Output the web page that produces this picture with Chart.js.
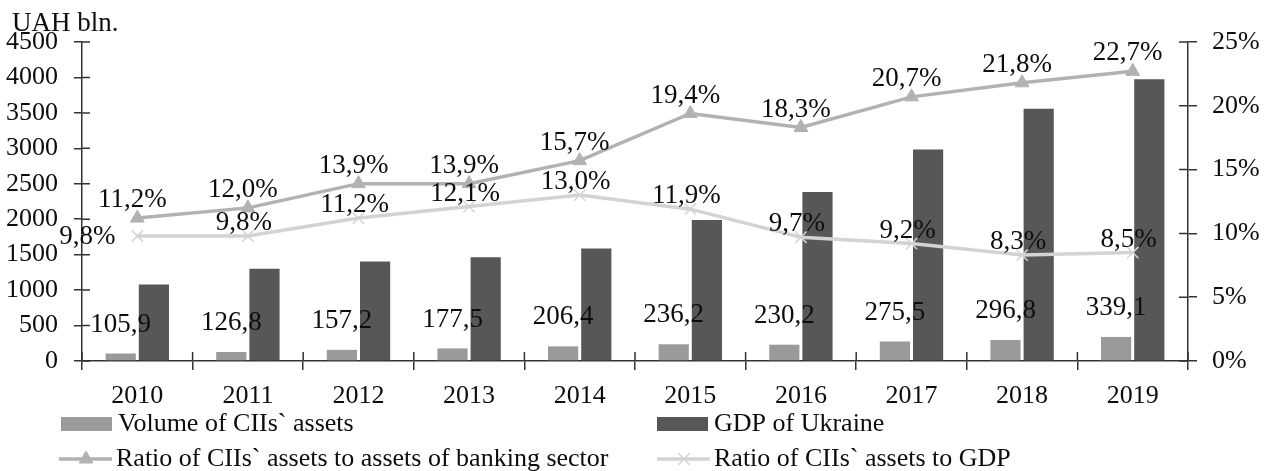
<!DOCTYPE html>
<html>
<head>
<meta charset="utf-8">
<script src="https://cdn.jsdelivr.net/npm/chart.js@4.4.0/dist/chart.umd.min.js"></script>
<style>
  html, body { margin: 0; padding: 0; background: #fff; }
  #wrap { width: 1273px; height: 471px; }
</style>
</head>
<body>
<div id="wrap"><canvas id="mainChart" width="1273" height="471"></canvas></div>
<script>
const years = ['2010', '2011', '2012', '2013', '2014', '2015', '2016', '2017', '2018', '2019'];
const ciiAssets = [105.9, 126.8, 157.2, 177.5, 206.4, 236.2, 230.2, 275.5, 296.8, 339.1];
const gdpUkraine = [1079.3, 1300.0, 1404.7, 1465.2, 1586.9, 1988.5, 2385.4, 2983.9, 3558.7, 3974.6];
const ratioBanking = [11.2, 12.0, 13.9, 13.9, 15.7, 19.4, 18.3, 20.7, 21.8, 22.7];
const ratioGdp = [9.8, 9.8, 11.2, 12.1, 13.0, 11.9, 9.7, 9.2, 8.3, 8.5];

const serif = "'Liberation Serif', 'Times New Roman', serif";
const fontSize = 26;
const labelSize = 27;
const textColor = '#0d0d0d';
const axisColor = '#333333';

Chart.defaults.font.family = serif;
Chart.defaults.font.size = fontSize;
Chart.defaults.color = textColor;

const comma = v => v.toFixed(1).replace('.', ',');

// where each legend entry sits (box/line start, middle of row)
const legendSlots = [[61, 424], [657, 424], [59, 459], [657, 459]];

const valueLabels = {
  id: 'valueLabels',
  afterDatasetsDraw(chart) {
    const ctx = chart.ctx;
    ctx.save();
    ctx.font = labelSize + 'px ' + serif;
    ctx.fillStyle = textColor;
    ctx.textAlign = 'center';
    ctx.textBaseline = 'middle';
    chart.data.datasets.forEach((ds, i) => {
      if (!ds.labelFmt) return;
      const meta = chart.getDatasetMeta(i);
      meta.data.forEach((el, j) => {
        let dx = ds.labelDx || 0, dy = ds.labelDy || 0;
        const sh = ds.labelShift && ds.labelShift[j];
        if (sh) { dx = sh[0]; dy = sh[1]; }
        ctx.fillText(ds.labelFmt(ds.data[j]), el.x + dx, el.y + dy);
      });
    });
    ctx.restore();
  }
};

const extras = {
  id: 'extras',
  afterDraw(chart) {
    const ctx = chart.ctx;
    const area = chart.chartArea;
    const sx = chart.scales.x, sy = chart.scales.y, sy1 = chart.scales.y1;
    ctx.save();
    // inner half of the crossing tick marks
    ctx.strokeStyle = axisColor;
    ctx.lineWidth = 1.5;
    ctx.beginPath();
    sy.ticks.forEach(t => {
      const y = sy.getPixelForValue(t.value);
      ctx.moveTo(area.left, y); ctx.lineTo(area.left + 8, y);
    });
    sy1.ticks.forEach(t => {
      const y = sy1.getPixelForValue(t.value);
      ctx.moveTo(area.right, y); ctx.lineTo(area.right - 9, y);
    });
    for (let i = 0; i <= years.length; i++) {
      const x = sx.left + (sx.width / years.length) * i;
      ctx.moveTo(x, area.bottom); ctx.lineTo(x, area.bottom - 9);
    }
    ctx.stroke();

    // unit caption
    ctx.font = labelSize + 'px ' + serif;
    ctx.fillStyle = textColor;
    ctx.textBaseline = 'middle';
    ctx.textAlign = 'left';
    ctx.fillText('UAH bln.', 12, 24);

    // legend
    ctx.font = fontSize + 'px ' + serif;
    chart.data.datasets.forEach((ds, i) => {
      const [lx, ly] = legendSlots[i];
      if (ds.type === 'line') {
        ctx.strokeStyle = ds.borderColor;
        ctx.lineWidth = ds.borderWidth;
        ctx.beginPath();
        ctx.moveTo(lx, ly); ctx.lineTo(lx + 53, ly);
        ctx.stroke();
        ctx.fillStyle = ds.pointBackgroundColor;
        ctx.strokeStyle = ds.pointBorderColor;
        ctx.lineWidth = ds.pointBorderWidth;
        Chart.helpers.drawPoint(ctx, {
          pointStyle: ds.pointStyle, radius: ds.pointRadius, rotation: 0, borderWidth: ds.pointBorderWidth
        }, lx + 27, ly);
      } else {
        ctx.fillStyle = ds.backgroundColor;
        ctx.fillRect(lx, ly - 7, 51, 14);
      }
      ctx.fillStyle = textColor;
      ctx.fillText(ds.label, lx + 57, ly);
    });
    ctx.restore();
  }
};

new Chart('mainChart', {
  type: 'bar',
  data: {
    labels: years,
    datasets: [
      {
        label: 'Volume of CIIs` assets',
        data: ciiAssets,
        backgroundColor: '#9a9a9a',
        yAxisID: 'y',
        order: 2,
        categoryPercentage: 0.6,
        barPercentage: 0.91,
        labelFmt: comma,
        labelDy: -29
      },
      {
        label: 'GDP of Ukraine',
        data: gdpUkraine,
        backgroundColor: '#575757',
        yAxisID: 'y',
        order: 2,
        categoryPercentage: 0.6,
        barPercentage: 0.91
      },
      {
        type: 'line',
        label: 'Ratio of CIIs` assets to assets of banking sector',
        data: ratioBanking,
        yAxisID: 'y1',
        order: 0,
        borderColor: '#b2b2b2',
        borderWidth: 3.5,
        pointStyle: 'triangle',
        pointRadius: 8,
        pointBackgroundColor: '#b2b2b2',
        pointBorderColor: '#b2b2b2',
        pointBorderWidth: 1,
        tension: 0,
        labelFmt: v => comma(v) + '%',
        labelDx: -5,
        labelDy: -18
      },
      {
        type: 'line',
        label: 'Ratio of CIIs` assets to GDP',
        data: ratioGdp,
        yAxisID: 'y1',
        order: 1,
        borderColor: '#d3d3d3',
        borderWidth: 3.5,
        pointStyle: 'crossRot',
        pointRadius: 8,
        pointBackgroundColor: '#d3d3d3',
        pointBorderColor: '#d3d3d3',
        pointBorderWidth: 1.5,
        tension: 0,
        labelFmt: v => comma(v) + '%',
        labelDx: -4,
        labelDy: -13,
        labelShift: [[-50, 1]]
      }
    ]
  },
  options: {
    responsive: false,
    animation: false,
    devicePixelRatio: 1,
    layout: { padding: { top: 42, left: 0, right: 0, bottom: 0 } },
    plugins: {
      legend: { display: false },
      tooltip: { enabled: false }
    },
    scales: {
      x: {
        grid: { offset: true, drawOnChartArea: false, tickLength: 9, color: axisColor, lineWidth: 1.5 },
        border: { color: axisColor, width: 1.5 },
        ticks: { padding: 11, maxRotation: 0 },
        afterFit: s => { s.height = 110; }
      },
      y: {
        position: 'left',
        min: 0, max: 4500,
        ticks: { stepSize: 500, padding: 16, callback: v => String(v) },
        grid: { drawOnChartArea: false, tickLength: 8, color: axisColor, lineWidth: 1.5 },
        border: { color: axisColor, width: 1.5 },
        afterFit: s => { s.width = 82; }
      },
      y1: {
        position: 'right',
        min: 0, max: 25,
        ticks: { stepSize: 5, padding: 15, callback: v => v + '%' },
        grid: { drawOnChartArea: false, tickLength: 9, color: axisColor, lineWidth: 1.5 },
        border: { color: axisColor, width: 1.5 },
        afterFit: s => { s.width = 85; }
      }
    }
  },
  plugins: [valueLabels, extras]
});
</script>
</body>
</html>
